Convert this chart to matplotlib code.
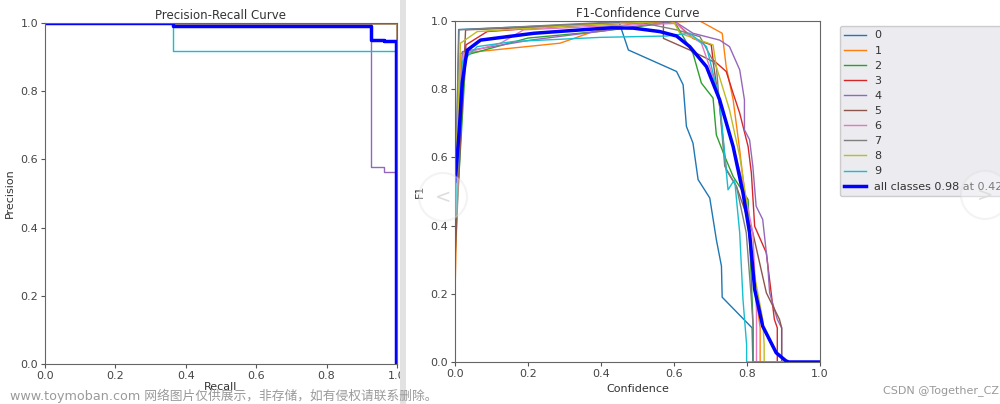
import numpy as np
import matplotlib
matplotlib.use("Agg")
import matplotlib.pyplot as plt
from matplotlib.patches import Rectangle, Ellipse

# ---- data ----
class_names = ["0", "1", "2", "3", "4", "5", "6", "7", "8", "9"]
class_colors = ["#1f77b4", "#ff7f0e", "#2ca02c", "#d62728", "#9467bd",
                "#8c564b", "#e377c2", "#7f7f7f", "#bcbd22", "#17becf"]

# precision-recall (step curves)
pr_full_recall = [0.0, 1.0, 1.0]
pr_full_prec = [1.0, 1.0, 0.0]
pr4_recall = [0.0, 0.925, 0.925, 0.962, 0.962, 0.997, 0.997]
pr4_prec = [1.0, 1.0, 0.578, 0.578, 0.562, 0.562, 0.0]
pr9_recall = [0.0, 0.364, 0.364, 0.997, 0.997]
pr9_prec = [1.0, 1.0, 0.918, 0.918, 0.0]
pr_all_recall = [0.0, 0.364, 0.364, 0.925, 0.925, 0.962, 0.962, 0.997, 0.997]
pr_all_prec = [1.0, 1.0, 0.992, 0.992, 0.950, 0.950, 0.947, 0.947, 0.0]

# F1-confidence, one list of (confidence, f1) per class
f1_x = [
    [0.0, 0.01, 0.45, 0.475, 0.607, 0.625, 0.634, 0.652, 0.666, 0.698, 0.716, 0.73, 0.732, 0.814, 0.816, 1.0],
    [0.0, 0.015, 0.288, 0.379, 0.489, 0.671, 0.732, 0.743, 0.762, 0.78, 0.798, 0.816, 0.836, 0.836, 1.0],
    [0.0, 0.03, 0.2, 0.4, 0.55, 0.6, 0.652, 0.675, 0.707, 0.716, 0.739, 0.762, 0.803, 0.817, 0.817, 1.0],
    [0.0, 0.03, 0.088, 0.3, 0.6, 0.652, 0.702, 0.707, 0.743, 0.762, 0.78, 0.803, 0.812, 0.821, 0.853, 0.875, 0.883, 0.883, 1.0],
    [0.0, 0.02, 0.207, 0.4, 0.6, 0.652, 0.725, 0.752, 0.78, 0.793, 0.793, 0.807, 0.816, 0.825, 0.843, 0.857, 0.862, 0.883, 0.895, 0.895, 1.0],
    [0.0, 0.029, 0.3, 0.571, 0.571, 0.643, 0.707, 0.725, 0.743, 0.771, 0.816, 0.853, 0.889, 0.895, 0.895, 1.0],
    [0.0, 0.025, 0.125, 0.188, 0.4, 0.607, 0.634, 0.675, 0.707, 0.734, 0.762, 0.789, 0.816, 0.826, 0.826, 1.0],
    [0.0, 0.011, 0.489, 0.607, 0.671, 0.716, 0.739, 0.771, 0.798, 0.812, 0.817, 0.817, 1.0],
    [0.0, 0.015, 0.061, 0.3, 0.598, 0.616, 0.707, 0.716, 0.752, 0.78, 0.798, 0.816, 0.843, 0.847, 0.847, 1.0],
    [0.0, 0.02, 0.061, 0.161, 0.398, 0.58, 0.643, 0.689, 0.725, 0.748, 0.766, 0.78, 0.789, 0.799, 0.799, 1.0],
]
f1_y = [
    [0.3, 0.975, 0.995, 0.915, 0.852, 0.813, 0.691, 0.642, 0.535, 0.481, 0.359, 0.281, 0.19, 0.1, 0.0, 0.0],
    [0.2, 0.905, 0.935, 0.969, 0.993, 1.0, 0.964, 0.866, 0.769, 0.622, 0.457, 0.26, 0.1, 0.0, 0.0],
    [0.35, 0.9, 0.95, 0.97, 0.99, 1.0, 0.905, 0.818, 0.774, 0.666, 0.603, 0.544, 0.476, 0.1, 0.0, 0.0],
    [0.45, 0.93, 0.969, 0.985, 1.0, 0.949, 0.93, 0.886, 0.852, 0.788, 0.73, 0.632, 0.554, 0.398, 0.32, 0.125, 0.1, 0.0, 0.0],
    [0.4, 0.91, 0.944, 0.97, 1.0, 0.964, 0.944, 0.925, 0.857, 0.769, 0.681, 0.652, 0.574, 0.457, 0.418, 0.281, 0.203, 0.125, 0.1, 0.0, 0.0],
    [0.3, 0.974, 0.985, 1.0, 0.949, 0.915, 0.881, 0.75, 0.564, 0.515, 0.379, 0.203, 0.125, 0.1, 0.0, 0.0],
    [0.45, 0.905, 0.935, 0.974, 0.985, 0.993, 0.964, 0.935, 0.837, 0.74, 0.632, 0.525, 0.379, 0.15, 0.0, 0.0],
    [0.5, 0.974, 1.0, 0.974, 0.954, 0.866, 0.574, 0.515, 0.379, 0.183, 0.1, 0.0, 0.0],
    [0.5, 0.935, 0.969, 0.985, 1.0, 0.964, 0.93, 0.866, 0.74, 0.603, 0.476, 0.281, 0.125, 0.05, 0.0, 0.0],
    [0.4, 0.881, 0.925, 0.94, 0.952, 0.956, 0.964, 0.925, 0.769, 0.505, 0.535, 0.379, 0.183, 0.05, 0.0, 0.0],
]
f1_all_x = [0.0, 0.002, 0.011, 0.02, 0.029, 0.034, 0.07, 0.216, 0.398, 0.428, 0.489, 0.561, 0.607,
            0.643, 0.689, 0.725, 0.762, 0.789, 0.807, 0.821, 0.843, 0.88, 0.907, 0.915, 1.0]
f1_all_y = [0.53, 0.55, 0.67, 0.82, 0.886, 0.915, 0.944, 0.964, 0.978, 0.98, 0.979, 0.969, 0.956,
            0.925, 0.866, 0.769, 0.632, 0.496, 0.379, 0.213, 0.105, 0.027, 0.003, 0.0, 0.0]
all_label = "all classes 0.98 at 0.428"

W, H = 1000, 404
text_col = "#333333"
plt.rcParams["font.size"] = 8
plt.rcParams["text.color"] = text_col
plt.rcParams["xtick.color"] = "#444444"
plt.rcParams["ytick.color"] = "#444444"
plt.rcParams["axes.labelcolor"] = text_col

fig = plt.figure(figsize=(W / 100, H / 100), dpi=100)


def px_axes(x0, x1, y_top, y_bot):
    return fig.add_axes([x0 / W, 1 - y_bot / H, (x1 - x0) / W, (y_bot - y_top) / H])


def style(ax):
    ax.set_xlim(0, 1)
    ax.set_ylim(0, 1)
    ax.set_xticks(np.arange(0, 1.01, 0.2))
    ax.set_yticks(np.arange(0, 1.01, 0.2))
    ax.tick_params(labelsize=8, length=3, color="#555555", pad=2)
    for s in ax.spines.values():
        s.set_color("#666666")


# left: precision-recall
ax1 = px_axes(45, 397, 23, 364)
for i, c in enumerate(class_colors):
    if i == 4:
        ax1.plot(pr4_recall, pr4_prec, color=c, lw=1)
    elif i == 9:
        ax1.plot(pr9_recall, pr9_prec, color=c, lw=1)
    else:
        ax1.plot(pr_full_recall, pr_full_prec, color=c, lw=1)
ax1.plot(pr_all_recall, pr_all_prec, color="blue", lw=2.5)
style(ax1)
ax1.set_title("Precision-Recall Curve", fontsize=8.5, pad=3)
ax1.set_xlabel("Recall", fontsize=8, labelpad=1)
ax1.set_ylabel("Precision", fontsize=8, labelpad=4)

# right: F1-confidence
ax2 = px_axes(455, 820, 21, 362)
handles = []
for name, c, xs, ys in zip(class_names, class_colors, f1_x, f1_y):
    h, = ax2.plot(xs, ys, color=c, lw=1, label=name)
    handles.append(h)
h, = ax2.plot(f1_all_x, f1_all_y, color="blue", lw=2.5, label=all_label)
handles.append(h)
style(ax2)
ax2.set_title("F1-Confidence Curve", fontsize=8.5, pad=3)
ax2.set_xlabel("Confidence", fontsize=8, labelpad=4)
ax2.set_ylabel("F1", fontsize=8, labelpad=4)

leg = fig.legend(handles=handles, loc="upper left", bbox_to_anchor=(840 / W, 1 - 26 / H),
                 borderaxespad=0, fontsize=8, frameon=True, fancybox=True,
                 handlelength=1.9, handletextpad=0.8, labelspacing=0.46, borderpad=0.4)
leg.get_frame().set_facecolor("#ebebf0")
leg.get_frame().set_edgecolor("#cccccc")
leg.get_frame().set_alpha(1)

# screenshot seam between the two panels
fig.patches.append(Rectangle((400 / W, 0), 6 / W, 1, transform=fig.transFigure,
                             facecolor="#e2e2e2", edgecolor="none", zorder=10))

# faint carousel buttons
for cx, cy in [(443, 197), (985, 195)]:
    fig.patches.append(Ellipse((cx / W, 1 - cy / H), 48 / W, 48 / H, transform=fig.transFigure,
                               facecolor="white", alpha=0.35, edgecolor="#dddddd", lw=1.5, zorder=11))
fig.text(443 / W, 1 - 197 / H, "<", fontsize=14, color="#dddddd", ha="center", va="center", zorder=12)
fig.text(985 / W, 1 - 195 / H, ">", fontsize=14, color="#dddddd", ha="center", va="center", zorder=12)

# watermarks
fig.text(10 / W, 1 - 396 / H, "www.toymoban.com 网络图片仅供展示，非存储，如有侵权请联系删除。",
         family=["DejaVu Sans", "Noto Sans CJK SC"], fontsize=9.2, color="#9a9a9a",
         ha="left", va="center", zorder=12)
fig.text(883 / W, 1 - 391 / H, "CSDN @Together_CZ", fontsize=8, color="#999999",
         ha="left", va="center", zorder=12)

fig.savefig("out.png", dpi=100)
